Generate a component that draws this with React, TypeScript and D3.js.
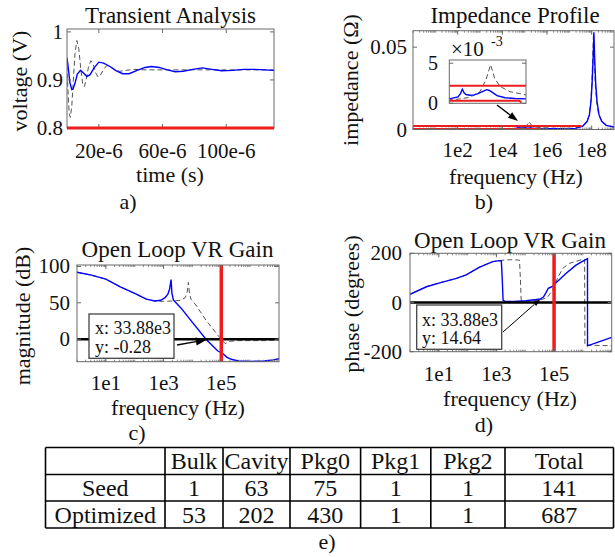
import React from "react";
import * as d3 from "d3";

// ---------------- a) Transient Analysis ----------------
const transientTimeOptUs = [0, 0.8, 1.8, 3, 3.8, 5, 6.5, 8.5, 10.5, 12.5, 14.5, 17, 20, 23, 27, 31, 35, 39, 44, 49, 53, 58, 63, 68, 73, 79, 85, 91, 97, 104, 111, 118, 124, 130];
const transientVoltOpt = [0.946, 0.925, 0.895, 0.88, 0.881, 0.893, 0.912, 0.92, 0.914, 0.907, 0.911, 0.925, 0.937, 0.935, 0.928, 0.919, 0.913, 0.913, 0.92, 0.926, 0.928, 0.926, 0.921, 0.917, 0.918, 0.922, 0.925, 0.922, 0.919, 0.92, 0.922, 0.922, 0.921, 0.92];
const transientTimeSeedUs = [0, 0.7, 1.4, 2.1, 3, 4, 5, 6.2, 7.4, 8.6, 9.8, 10.9, 12, 13.5, 15, 16.5, 18, 19.5, 21, 23, 25, 27.5, 30, 33, 37, 42, 50, 60, 80, 100, 130];
const transientVoltSeed = [0.93, 0.87, 0.83, 0.822, 0.845, 0.9, 0.955, 0.982, 0.965, 0.925, 0.893, 0.886, 0.9, 0.927, 0.94, 0.932, 0.915, 0.906, 0.91, 0.922, 0.93, 0.927, 0.921, 0.918, 0.92, 0.922, 0.921, 0.921, 0.921, 0.921, 0.921];
const transientLimit = 0.8;
const transientXTicks = [20e-6, 60e-6, 100e-6];
const transientXTickLabels = ["20e-6", "60e-6", "100e-6"];
const transientYTicks = [0.8, 0.9, 1];
const transientYTickLabels = ["0.8", "0.9", "1"];

// ---------------- b) Impedance Profile (values in mΩ, freq as log10 Hz) ----------------
const zLogFreqOpt = [0, 4.5, 4.647, 4.69, 4.72, 4.75, 4.783, 4.851, 4.92, 4.986, 5.06, 5.134, 5.18, 5.224, 5.308, 5.444, 5.614, 5.8, 6.5, 7.0, 7.3, 7.6, 7.8, 7.9, 7.97, 8.02, 8.07, 8.1, 8.13, 8.18, 8.24, 8.33, 8.45, 8.65, 9.0];
const zOptMilliOhm = [0.5, 0.55, 0.8, 1.2, 1.75, 1.3, 1.1, 1.0, 1.05, 1.2, 1.45, 1.7, 1.6, 1.4, 0.95, 0.7, 0.6, 0.55, 0.48, 0.48, 0.7, 2, 5, 9, 17, 28, 45, 59, 45, 28, 17, 9, 5, 2.5, 1.5];
const zLogFreqSeed = [0, 4.5, 4.68, 4.85, 5.02, 5.12, 5.2, 5.27, 5.36, 5.53, 5.8, 6.5, 7.2, 7.6, 7.8, 7.9, 7.96, 8.01, 8.05, 8.08, 8.11, 8.16, 8.22, 8.31, 8.45, 8.65, 9.0];
const zSeedMilliOhm = [0.38, 0.41, 0.55, 0.75, 1.45, 2.9, 4.8, 3.1, 2.1, 1.45, 1.04, 0.7, 0.8, 2.2, 5, 9, 17, 28, 45, 58, 45, 28, 17, 9, 5, 2.5, 1.5];
const zTargetUpperLogF = [0, 7.55];
const zTargetUpper = [2.2, 2.2];
const zTargetLowerLogF = [0, 5.68, 5.71, 5.72];
const zTargetLower = [0.33, 0.33, 0.2, 0.08];
const zXTicks = [1e2, 1e4, 1e6, 1e8];
const zXTickLabels = ["1e2", "1e4", "1e6", "1e8"];
const zYTicks = [0, 0.05];
const zYTickLabels = ["0", "0.05"];
const zInsetYTicks = [0, 5e-3];
const zInsetYTickLabels = ["0", "5"];

// ---------------- c) Open loop gain magnitude ----------------
const magLogFreqOpt = [0, 0.5, 1, 1.5, 2, 2.4, 2.7, 2.9, 3.05, 3.15, 3.21, 3.26, 3.29, 3.34, 3.6, 4.0, 4.47, 4.87, 5.04, 5.2, 5.37, 5.6, 6.0, 6.5, 6.8, 7];
const magOptDb = [92, 88, 82.6, 72, 63, 55, 52.5, 53.5, 57, 62, 69, 82, 63, 54, 43, 23, 0, -16, -19.5, -25, -28, -30, -30.5, -30, -28.5, -27];
const magLogFreqSeed = [0, 0.5, 1, 1.5, 2, 2.4, 2.7, 3.0, 3.3, 3.6, 3.75, 3.82, 3.86, 3.9, 3.95, 4.12, 4.47, 4.93, 5.13, 5.3, 5.6, 6.5, 7];
const magSeedDb = [92, 88, 82.6, 72, 63, 55, 52.5, 52, 52.5, 53.5, 57, 65, 78, 62, 55, 47, 26, 3, -6, -3, -2, -2, -1];
const magXTicks = [1e1, 1e3, 1e5];
const magXTickLabels = ["1e1", "1e3", "1e5"];
const magYTicks = [0, 50, 100];
const magYTickLabels = ["0", "50", "100"];

// ---------------- d) Open loop gain phase ----------------
const phLogFreqOpt = [0, 0.57, 1.03, 1.61, 1.95, 2.4, 2.87, 3.1, 3.17, 3.2, 3.23, 3.3, 3.6, 4.03, 4.38, 4.53, 4.63, 4.72, 4.8, 4.88, 4.95, 5.05, 5.2, 5.41, 5.76, 6.0, 6.16, 6.161, 6.5, 7];
const phOptDeg = [33, 64, 80, 98, 112, 143, 166, 170, 168, 100, 10, 4, 4, 7, 12, 14.64, 22, 40, 58, 62, 65, 78, 95, 118, 152, 168, 178, -176, -162, -142];
const phLogFreqSeed = [0, 0.57, 1.03, 1.61, 1.95, 2.4, 2.87, 3.1, 3.3, 3.6, 3.8, 3.83, 3.86, 4.0, 4.3, 4.6, 4.78, 4.95, 5.12, 5.3, 5.53, 5.98, 6.06, 6.07, 7.0];
const phSeedDeg = [33, 64, 80, 98, 112, 143, 166, 170, 173, 174, 172, 100, 8, 5, 7, 13, 23, 51, 98, 139, 159, 175, 176, -173, -176];
const phXTicks = [1e1, 1e3, 1e5];
const phXTickLabels = ["1e1", "1e3", "1e5"];
const phYTicks = [-200, 0, 200];
const phYTickLabels = ["-200", "0", "200"];

// crossover marker
const markerFreq = 33.88e3;
const markerMagDb = -0.28;
const markerPhaseDeg = 14.64;
const markerMagLabels = ["x: 33.88e3", "y: -0.28"];
const markerPhaseLabels = ["x: 33.88e3", "y: 14.64"];
const limitFreq = 1e5;

// ---------------- e) table ----------------
const tableHeaders = ["", "Bulk", "Cavity", "Pkg0", "Pkg1", "Pkg2", "Total"];
const tableRowNames = ["Seed", "Optimized"];
const seedCounts = [1, 63, 75, 1, 1, 141];
const optimizedCounts = [53, 202, 430, 1, 1, 687];

// ---------------- styling ----------------
const FONT = "Liberation Serif, Times New Roman, serif";
const BLUE = "#0000ff";
const RED = "#ee1c1c";
const GRAY = "#555";
const FRAME = "#6a6a6a";
const TXT = "#111";

type Pt = [number, number];
const zip = (a: number[], b: number[]): Pt[] => a.map((v, i) => [v, b[i]]);
const pow10 = (a: number[]) => a.map((v) => Math.pow(10, v));

function Arrow({ x1, y1, x2, y2, head = 10, width = 7, sw = 1.3 }: any) {
  const a = Math.atan2(y2 - y1, x2 - x1);
  const c = Math.cos(a), s = Math.sin(a);
  const bx = x2 - head * c, by = y2 - head * s;
  const px = -s * width / 2, py = c * width / 2;
  return (
    <g>
      <line x1={x1} y1={y1} x2={bx} y2={by} stroke="#000" strokeWidth={sw} />
      <polygon points={`${x2},${y2} ${bx + px},${by + py} ${bx - px},${by - py}`} fill="#000" />
    </g>
  );
}

function Frame({ xs, ys, xTicks, xLabels, yTicks, yLabels, xLabelBase, yLabelRight, logMinor = false, tickFont = 21 }: any) {
  const [x0, x1] = xs.range();
  const [y1, y0] = ys.range();
  const minor: number[] = [];
  if (logMinor) {
    const [d0, d1] = xs.domain();
    for (let e = Math.round(Math.log10(d0)); e < Math.round(Math.log10(d1)); e++) {
      for (let k = 1; k < 10; k++) minor.push(k * Math.pow(10, e));
    }
  }
  return (
    <g>
      <rect x={x0} y={y0} width={x1 - x0} height={y1 - y0} fill="none" stroke={FRAME} strokeWidth={1} />
      {minor.map((m, i) => (
        <g key={"m" + i}>
          <line x1={xs(m)} x2={xs(m)} y1={y1} y2={y1 - 2} stroke={FRAME} strokeWidth={0.8} />
          <line x1={xs(m)} x2={xs(m)} y1={y0} y2={y0 + 2} stroke={FRAME} strokeWidth={0.8} />
        </g>
      ))}
      {xTicks.map((t: number, i: number) => (
        <g key={"x" + i}>
          <line x1={xs(t)} x2={xs(t)} y1={y1} y2={y1 - 4} stroke={FRAME} />
          <line x1={xs(t)} x2={xs(t)} y1={y0} y2={y0 + 4} stroke={FRAME} />
          <text x={xs(t)} y={xLabelBase} textAnchor="middle" fontSize={tickFont} fill={TXT}>{xLabels[i]}</text>
        </g>
      ))}
      {yTicks.map((t: number, i: number) => (
        <g key={"y" + i}>
          <line x1={x0} x2={x0 + 4} y1={ys(t)} y2={ys(t)} stroke={FRAME} />
          <line x1={x1} x2={x1 - 4} y1={ys(t)} y2={ys(t)} stroke={FRAME} />
          <text x={yLabelRight} y={ys(t) + 7} textAnchor="end" fontSize={tickFont} fill={TXT}>{yLabels[i]}</text>
        </g>
      ))}
    </g>
  );
}

function YLabel({ x, y, text }: any) {
  return (
    <text transform={`translate(${x},${y}) rotate(-90)`} textAnchor="middle" fontSize={22} fill={TXT}>{text}</text>
  );
}

export default function App() {
  const xA = d3.scaleLinear().domain([0, 130e-6]).range([67, 274]);
  const yA = d3.scaleLinear().domain([0.8, 1.006]).range([128, 29]);

  const xB = d3.scaleLog().domain([1, 1e9]).range([413, 614]);
  const yB = d3.scaleLinear().domain([0, 0.06]).range([129.5, 30.7]);
  const xBi = d3.scaleLog().domain([Math.pow(10, 4.5), Math.pow(10, 5.8)]).range([449.3, 526]);
  const yBi = d3.scaleLinear().domain([0, 5.4e-3]).range([103.3, 60]);

  const xC = d3.scaleLog().domain([1, 1e7]).range([77, 279]);
  const yC = d3.scaleLinear().domain([-31, 102]).range([361.7, 265]);

  const xD = d3.scaleLog().domain([1, 1e7]).range([410, 611.7]);
  const yD = d3.scaleLinear().domain([-200, 200]).range([351.7, 253.3]);

  const mk = (xs: any, ys: any) => d3.line<Pt>().x((d) => xs(d[0])).y((d) => ys(d[1]));

  const lineA = mk(xA, yA);
  const optA = zip(transientTimeOptUs.map((t) => t * 1e-6), transientVoltOpt);
  const seedA = zip(transientTimeSeedUs.map((t) => t * 1e-6), transientVoltSeed);

  const mOhm = (a: number[]) => a.map((v) => v * 1e-3);
  const optB = zip(pow10(zLogFreqOpt), mOhm(zOptMilliOhm));
  const seedB = zip(pow10(zLogFreqSeed), mOhm(zSeedMilliOhm));
  const tUp = zip(pow10(zTargetUpperLogF), mOhm(zTargetUpper));
  const tLo = zip(pow10(zTargetLowerLogF), mOhm(zTargetLower));
  const lineB = mk(xB, yB);
  const lineBi = mk(xBi, yBi);

  const lineC = mk(xC, yC);
  const optC = zip(pow10(magLogFreqOpt), magOptDb);
  const seedC = zip(pow10(magLogFreqSeed), magSeedDb);

  const lineD = mk(xD, yD);
  const optD = zip(pow10(phLogFreqOpt), phOptDeg);
  const seedD = zip(pow10(phLogFreqSeed), phSeedDeg);

  const clip = (id: string, xs: any, ys: any) => {
    const [x0, x1] = xs.range();
    const [y1, y0] = ys.range();
    return (
      <clipPath id={id}>
        <rect x={x0} y={y0 - 1} width={x1 - x0} height={y1 - y0 + 2} />
      </clipPath>
    );
  };

  const colEdges = [45.5, 165, 223, 290, 360.6, 430.8, 505, 613.5];
  const rowEdges = [447.5, 474.5, 501, 528];
  const tableRows = [tableHeaders, [tableRowNames[0], ...seedCounts.map(String)], [tableRowNames[1], ...optimizedCounts.map(String)]];

  return (
    <svg width={615} height={557} style={{ position: "absolute", left: 0, top: 0, background: "#fff", fontFamily: FONT }}>
      <defs>
        {clip("cA", xA, yA)}
        {clip("cB", xB, yB)}
        {clip("cBi", xBi, yBi)}
        {clip("cC", xC, yC)}
        {clip("cD", xD, yD)}
      </defs>

      {/* ---------- a ---------- */}
      <text x={170.5} y={23} textAnchor="middle" fontSize={23} fill={TXT}>Transient Analysis</text>
      <g clipPath="url(#cA)">
        <path d={lineA(seedA)!} fill="none" stroke={GRAY} strokeWidth={1} strokeDasharray="5,3" />
        <path d={lineA(optA)!} fill="none" stroke={BLUE} strokeWidth={1.4} />
      </g>
      <Frame xs={xA} ys={yA} xTicks={transientXTicks} xLabels={transientXTickLabels} yTicks={transientYTicks} yLabels={transientYTickLabels} xLabelBase={158} yLabelRight={63} />
      <line x1={xA(0)} x2={xA(130e-6)} y1={yA(transientLimit)} y2={yA(transientLimit)} stroke={RED} strokeWidth={3} />
      <YLabel x={27} y={81} text="voltage (V)" />
      <text x={170} y={182} textAnchor="middle" fontSize={22} fill={TXT}>time (s)</text>
      <text x={128} y={209} textAnchor="middle" fontSize={22} fill={TXT}>a)</text>

      {/* ---------- b ---------- */}
      <text x={515} y={23} textAnchor="middle" fontSize={23} fill={TXT}>Impedance Profile</text>
      <g clipPath="url(#cB)">
        <path d={lineB(seedB)!} fill="none" stroke={GRAY} strokeWidth={1} strokeDasharray="5,3" />
        <path d={lineB(optB)!} fill="none" stroke={BLUE} strokeWidth={1.4} />
        <path d={lineB(tUp)!} fill="none" stroke={RED} strokeWidth={2} />
        <path d={lineB(tLo)!} fill="none" stroke={RED} strokeWidth={2} />
      </g>
      <Frame xs={xB} ys={yB} xTicks={zXTicks} xLabels={zXTickLabels} yTicks={zYTicks} yLabels={zYTickLabels} xLabelBase={157} yLabelRight={407} logMinor />
      {/* inset */}
      <rect x={449.3} y={60} width={526 - 449.3} height={103.3 - 60} fill="#fff" />
      <g clipPath="url(#cBi)">
        <path d={lineBi(seedB)!} fill="none" stroke={GRAY} strokeWidth={1} strokeDasharray="5,3" />
        <path d={lineBi(optB)!} fill="none" stroke={BLUE} strokeWidth={1.4} />
        <path d={lineBi(tUp)!} fill="none" stroke={RED} strokeWidth={2} />
        <path d={lineBi(tLo)!} fill="none" stroke={RED} strokeWidth={2} />
      </g>
      <Frame xs={xBi} ys={yBi} xTicks={[]} xLabels={[]} yTicks={zInsetYTicks} yLabels={zInsetYTickLabels} xLabelBase={0} yLabelRight={438} tickFont={20} />
      <text x={451} y={56} fontSize={21} fill={TXT}>×10</text>
      <text x={491} y={46} fontSize={14} fill={TXT}>-3</text>
      <Arrow x1={497} y1={105} x2={518} y2={121} head={10} width={7} sw={1.3} />
      <YLabel x={358} y={80} text="impedance (Ω)" />
      <text x={516} y={184} textAnchor="middle" fontSize={22} fill={TXT}>frequency (Hz)</text>
      <text x={484} y={209} textAnchor="middle" fontSize={22} fill={TXT}>b)</text>

      {/* ---------- c ---------- */}
      <text x={177.5} y={257} textAnchor="middle" fontSize={23} fill={TXT}>Open Loop VR Gain</text>
      <g clipPath="url(#cC)">
        <path d={lineC(seedC)!} fill="none" stroke={GRAY} strokeWidth={1} strokeDasharray="5,3" />
        <path d={lineC(optC)!} fill="none" stroke={BLUE} strokeWidth={1.4} />
        <line x1={xC(1)} x2={xC(1e7)} y1={yC(0)} y2={yC(0)} stroke="#000" strokeWidth={2.5} />
        <line x1={xC(limitFreq)} x2={xC(limitFreq)} y1={yC(-31)} y2={yC(102)} stroke={RED} strokeWidth={3.5} />
      </g>
      <Frame xs={xC} ys={yC} xTicks={magXTicks} xLabels={magXTickLabels} yTicks={magYTicks} yLabels={magYTickLabels} xLabelBase={390} yLabelRight={70} logMinor />
      <rect x={89} y={314} width={85} height={44.3} fill="#fff" stroke="#444" strokeWidth={1.3} />
      <text x={95} y={334} fontSize={18} fill={TXT}>{markerMagLabels[0]}</text>
      <text x={95} y={352.5} fontSize={18} fill={TXT}>{markerMagLabels[1]}</text>
      <Arrow x1={177} y1={345} x2={xC(markerFreq)} y2={yC(markerMagDb)} head={12} width={8} sw={1.3} />
      <YLabel x={30} y={316} text="magnitude (dB)" />
      <text x={178} y={415} textAnchor="middle" fontSize={22} fill={TXT}>frequency (Hz)</text>
      <text x={137} y={440} textAnchor="middle" fontSize={22} fill={TXT}>c)</text>

      {/* ---------- d ---------- */}
      <text x={510} y={248} textAnchor="middle" fontSize={23} fill={TXT}>Open Loop VR Gain</text>
      <g clipPath="url(#cD)">
        <path d={lineD(seedD)!} fill="none" stroke={GRAY} strokeWidth={1} strokeDasharray="5,3" />
        <path d={lineD(optD)!} fill="none" stroke={BLUE} strokeWidth={1.4} />
        <line x1={xD(1)} x2={xD(1e7)} y1={yD(0)} y2={yD(0)} stroke="#000" strokeWidth={2.5} />
        <line x1={xD(limitFreq)} x2={xD(limitFreq)} y1={yD(-200)} y2={yD(200)} stroke={RED} strokeWidth={3.5} />
      </g>
      <Frame xs={xD} ys={yD} xTicks={phXTicks} xLabels={phXTickLabels} yTicks={phYTicks} yLabels={phYTickLabels} xLabelBase={380.5} yLabelRight={402} logMinor />
      <rect x={416.7} y={305} width={85} height={44.3} fill="#fff" stroke="#444" strokeWidth={1.3} />
      <text x={422} y={325.5} fontSize={18} fill={TXT}>{markerPhaseLabels[0]}</text>
      <text x={422} y={344} fontSize={18} fill={TXT}>{markerPhaseLabels[1]}</text>
      <Arrow x1={503} y1={332} x2={xD(markerFreq)} y2={yD(markerPhaseDeg)} head={8} width={5} sw={1} />
      <YLabel x={359} y={304} text="phase (degrees)" />
      <text x={510} y={405.5} textAnchor="middle" fontSize={22} fill={TXT}>frequency (Hz)</text>
      <text x={484} y={432} textAnchor="middle" fontSize={22} fill={TXT}>d)</text>

      {/* ---------- e table ---------- */}
      <g>
        {tableRows.map((row, r) =>
          row.map((cell, c) => (
            <text key={r + "-" + c} x={(colEdges[c] + colEdges[c + 1]) / 2} y={(rowEdges[r] + rowEdges[r + 1]) / 2 + 8} textAnchor="middle" fontSize={24} fill={TXT}>{cell}</text>
          ))
        )}
        {rowEdges.map((y, i) => (
          <line key={"h" + i} x1={colEdges[0]} x2={colEdges[colEdges.length - 1]} y1={y} y2={y} stroke="#000" strokeWidth={1.6} />
        ))}
        {colEdges.map((x, i) => (
          <line key={"v" + i} x1={x} x2={x} y1={rowEdges[0]} y2={rowEdges[rowEdges.length - 1]} stroke="#000" strokeWidth={1.6} />
        ))}
      </g>
      <text x={327} y={549} textAnchor="middle" fontSize={22} fill={TXT}>e)</text>
    </svg>
  );
}
